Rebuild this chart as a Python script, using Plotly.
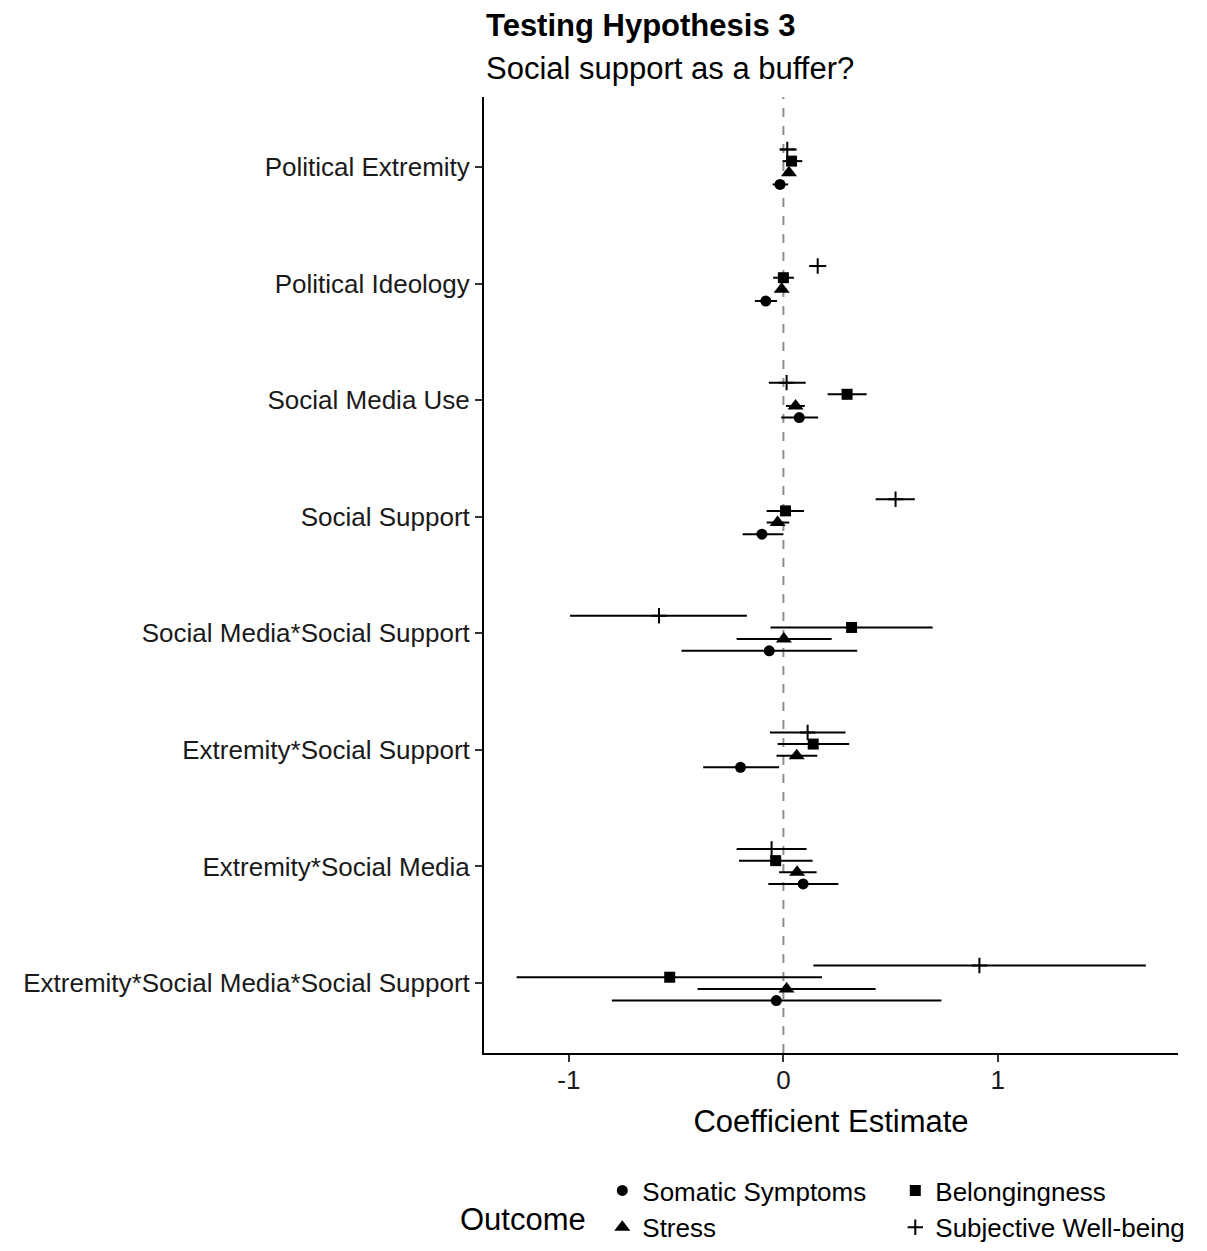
import plotly.graph_objects as go

categories = ["Political Extremity", "Political Ideology", "Social Media Use", "Social Support",
              "Social Media*Social Support", "Extremity*Social Support", "Extremity*Social Media",
              "Extremity*Social Media*Social Support"]

somatic_est = [-0.016, -0.082, 0.074, -0.10, -0.066, -0.20, 0.092, -0.033]
somatic_lo = [-0.05, -0.133, -0.01, -0.19, -0.475, -0.374, -0.07, -0.80]
somatic_hi = [0.022, -0.03, 0.162, 0.0, 0.344, -0.02, 0.256, 0.737]

stress_est = [0.026, -0.008, 0.057, -0.027, 0.002, 0.062, 0.064, 0.015]
stress_lo = [0.005, -0.03, 0.012, -0.078, -0.218, -0.032, -0.02, -0.40]
stress_hi = [0.048, 0.015, 0.10, 0.027, 0.225, 0.158, 0.155, 0.43]

belong_est = [0.038, 0.0, 0.297, 0.01, 0.318, 0.139, -0.036, -0.53]
belong_lo = [-0.004, -0.048, 0.206, -0.078, -0.06, -0.027, -0.207, -1.244]
belong_hi = [0.088, 0.049, 0.388, 0.096, 0.696, 0.307, 0.136, 0.18]

swb_est = [0.018, 0.16, 0.015, 0.523, -0.58, 0.113, -0.055, 0.914]
swb_lo = [-0.016, 0.12, -0.068, 0.43, -0.995, -0.063, -0.218, 0.14]
swb_hi = [0.062, 0.20, 0.104, 0.613, -0.17, 0.29, 0.108, 1.69]

x_ticks = [-1, 0, 1]

FONT = "Liberation Sans, Arial, Helvetica, sans-serif"

series = [
    ("Somatic Symptoms", somatic_est, somatic_lo, somatic_hi, 0.15, dict(symbol="circle", size=11, color="black")),
    ("Belongingness", belong_est, belong_lo, belong_hi, -0.05, dict(symbol="square", size=11, color="black")),
    ("Stress", stress_est, stress_lo, stress_hi, 0.05, dict(symbol="triangle-up", size=14, color="black")),
    ("Subjective Well-being", swb_est, swb_lo, swb_hi, -0.15,
     dict(symbol="cross-thin", size=11, color="black", line=dict(color="black", width=2))),
]

fig = go.Figure()
for name, est, lo, hi, off, marker in series:
    ys = [i + off for i in range(len(categories))]
    fig.add_trace(go.Scatter(
        x=est, y=ys, mode="markers", name=name, marker=marker,
        error_x=dict(type="data", symmetric=False,
                     array=[h - e for h, e in zip(hi, est)],
                     arrayminus=[e - l for e, l in zip(est, lo)],
                     width=0, thickness=2, color="black"),
    ))

fig.add_shape(type="line", xref="x", yref="paper", x0=0, x1=0, y0=0, y1=1,
              line=dict(color="#8f8f8f", width=2, dash="dash"), layer="below")

fig.update_layout(
    width=1207, height=1251,
    margin=dict(l=484, r=29, t=97, b=198, autoexpand=False),
    paper_bgcolor="white", plot_bgcolor="white",
    font=dict(family=FONT, color="black", size=26),
    showlegend=True,
    legend=dict(orientation="h", xref="container", yref="container",
                x=0.499, xanchor="left", y=-0.006, yanchor="bottom",
                entrywidth=248, font=dict(size=26, family=FONT), title=dict(text=""),
                itemsizing="trace", tracegroupgap=0),
    xaxis=dict(range=[-1.396, 1.84], tickvals=x_ticks, ticktext=[str(v) for v in x_ticks],
               showgrid=False, zeroline=False, showline=True, linecolor="black", linewidth=2,
               ticks="outside", ticklen=7, tickwidth=2, tickcolor="#333333", automargin=False,
               ticklabelstandoff=-4,
               tickfont=dict(size=26, family=FONT, color="#1a1a1a"),
               title=dict(text="Coefficient Estimate", font=dict(size=31, family=FONT), standoff=16)),
    yaxis=dict(range=[7.6, -0.6], tickvals=list(range(len(categories))), ticktext=categories,
               showgrid=False, zeroline=False, showline=True, linecolor="black", linewidth=2,
               ticks="outside", ticklen=7, tickwidth=2, tickcolor="#333333", automargin=False,
               tickfont=dict(size=26, family=FONT, color="#1a1a1a")),
    annotations=[
        dict(text="<b>Testing Hypothesis 3</b>", xref="paper", yref="paper", x=0.0, y=1.0748,
             xanchor="left", yanchor="middle", showarrow=False, font=dict(size=31, family=FONT)),
        dict(text="Social support as a buffer?", xref="paper", yref="paper", x=0.0, y=1.0303,
             xanchor="left", yanchor="middle", showarrow=False, font=dict(size=31, family=FONT)),
        dict(text="Outcome", xref="paper", yref="paper", x=0.056, y=-0.1745,
             xanchor="center", yanchor="middle", showarrow=False, font=dict(size=31, family=FONT)),
    ],
)

fig.write_html("out.html", config={"displayModeBar": False},
               post_script="document.body.style.margin='0';")
